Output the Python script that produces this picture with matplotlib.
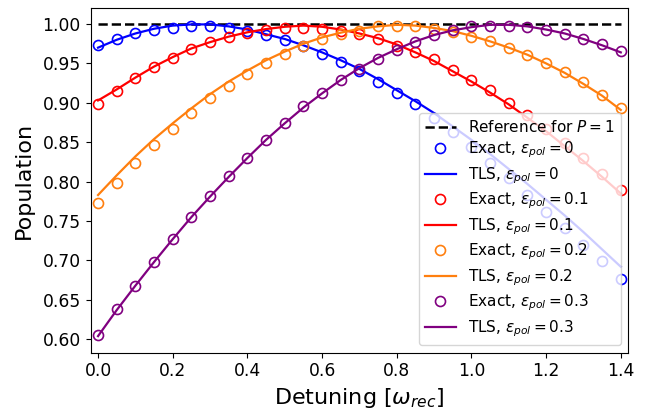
import numpy as np
import matplotlib
matplotlib.use("Agg")
import matplotlib.pyplot as plt

detuning = [0.00, 0.05, 0.10, 0.15, 0.20, 0.25, 0.30, 0.35, 0.40, 0.45,
            0.50, 0.55, 0.60, 0.65, 0.70, 0.75, 0.80, 0.85, 0.90, 0.95,
            1.00, 1.05, 1.10, 1.15, 1.20, 1.25, 1.30, 1.35, 1.40]

eps_labels = ["0", "0.1", "0.2", "0.3"]
colors = ["blue", "red", "#ff7f0e", "purple"]

exact_0 = [0.974, 0.981, 0.988, 0.993, 0.995, 0.997, 0.997, 0.995, 0.991, 0.986,
           0.980, 0.972, 0.962, 0.952, 0.940, 0.927, 0.912, 0.898, 0.881, 0.863,
           0.844, 0.824, 0.804, 0.783, 0.762, 0.741, 0.720, 0.699, 0.677]
exact_01 = [0.8985, 0.915, 0.931, 0.945, 0.957, 0.968, 0.977, 0.9835, 0.989, 0.993,
            0.995, 0.995, 0.994, 0.991, 0.987, 0.9805, 0.972, 0.965, 0.955, 0.942,
            0.929, 0.916, 0.900, 0.884, 0.867, 0.849, 0.830, 0.810, 0.790]
exact_02 = [0.773, 0.798, 0.8236, 0.847, 0.867, 0.8866, 0.9057, 0.9217, 0.937, 0.951,
            0.962, 0.9717, 0.9805, 0.987, 0.991, 0.9975, 0.998, 0.997, 0.994, 0.990,
            0.984, 0.978, 0.970, 0.961, 0.951, 0.939, 0.926, 0.910, 0.894]
exact_03 = [0.606, 0.638, 0.668, 0.698, 0.727, 0.755, 0.782, 0.807, 0.830, 0.853,
            0.875, 0.8955, 0.913, 0.929, 0.943, 0.956, 0.9666, 0.977, 0.9856, 0.992,
            0.997, 0.998, 0.998, 0.996, 0.992, 0.987, 0.981, 0.975, 0.9655]

tls_0 = [0.970, 0.980, 0.988, 0.994, 0.998, 0.9995, 0.9995, 0.997, 0.993, 0.987,
         0.981, 0.973, 0.964, 0.954, 0.943, 0.930, 0.916, 0.902, 0.887, 0.870,
         0.853, 0.835, 0.816, 0.797, 0.777, 0.757, 0.736, 0.714, 0.692]
tls_01 = [0.903, 0.917, 0.932, 0.946, 0.958, 0.969, 0.977, 0.984, 0.9895, 0.9936,
          0.9965, 0.998, 0.9965, 0.993, 0.988, 0.982, 0.974, 0.964, 0.953, 0.940,
          0.927, 0.913, 0.898, 0.881, 0.864, 0.845, 0.826, 0.806, 0.785]
tls_02 = [0.783, 0.808, 0.832, 0.854, 0.874, 0.893, 0.911, 0.927, 0.941, 0.954,
          0.965, 0.975, 0.983, 0.989, 0.994, 0.997, 0.999, 0.998, 0.995, 0.991,
          0.985, 0.978, 0.970, 0.961, 0.950, 0.938, 0.924, 0.909, 0.891]
tls_03 = [0.604, 0.637, 0.668, 0.698, 0.727, 0.755, 0.781, 0.806, 0.830, 0.853,
          0.874, 0.894, 0.912, 0.929, 0.944, 0.957, 0.968, 0.978, 0.986, 0.992,
          0.996, 0.999, 0.999, 0.997, 0.993, 0.988, 0.981, 0.973, 0.964]

exact_series = [exact_0, exact_01, exact_02, exact_03]
tls_series = [tls_0, tls_01, tls_02, tls_03]

fig = plt.figure(figsize=(6.47, 4.11), dpi=100)
ax = fig.add_axes([0.140, 0.142, 0.831, 0.8385])

ax.plot([detuning[0], detuning[-1]], [1.0, 1.0], "k--", lw=1.8,
        label="Reference for $P=1$")
for lab, col, ex, tl in zip(eps_labels, colors, exact_series, tls_series):
    ax.plot(detuning, ex, "o", mfc="none", mec=col, ms=7.2, mew=1.2,
            ls="none", label=r"Exact, $\varepsilon_{pol}=" + lab + "$")
    ax.plot(detuning, tl, "-", color=col, lw=1.6,
            label=r"TLS, $\varepsilon_{pol}=" + lab + "$")

ax.set_xlim(-0.02, 1.42)
ax.set_ylim(0.583, 1.0203)
ax.set_xticks([0.0, 0.2, 0.4, 0.6, 0.8, 1.0, 1.2, 1.4])
ax.set_yticks([0.60, 0.65, 0.70, 0.75, 0.80, 0.85, 0.90, 0.95, 1.00])
ax.set_yticklabels([f"{v:.2f}" for v in ax.get_yticks()])
ax.tick_params(labelsize=12.3)
ax.set_xlabel(r"Detuning [$\omega_{rec}$]", fontsize=16)
ax.set_ylabel("Population", fontsize=16, labelpad=6)
ax.legend(loc="lower right", fontsize=11, labelspacing=0.32,
          handletextpad=0.8, borderpad=0.4)

fig.savefig("out.png", dpi=100)
